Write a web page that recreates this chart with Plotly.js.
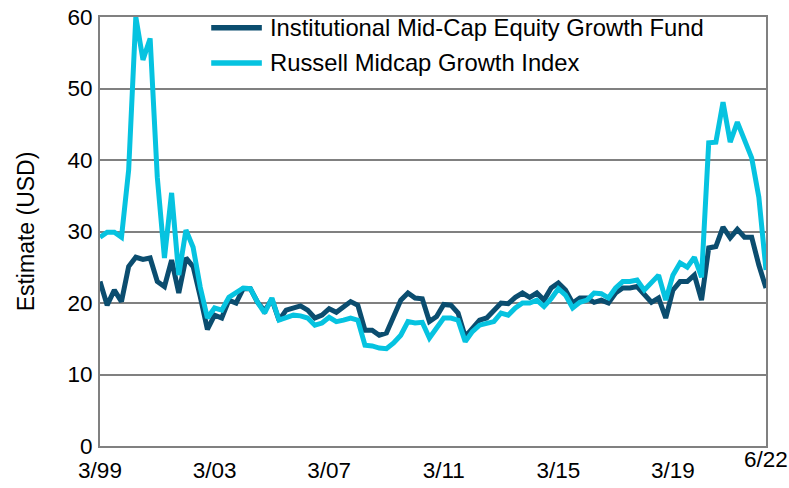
<!DOCTYPE html>
<html>
<head>
<meta charset="utf-8">
<script src="https://cdn.plot.ly/plotly-3.0.1.min.js"></script>
<style>
  html, body { margin: 0; padding: 0; background: #ffffff; }
  #chart { width: 789px; height: 488px; }
</style>
</head>
<body>
<div id="chart"></div>
<script>
// Quarter-end labels from 3/99 to 6/22 (categories)
const quarters = [];
for (let yr = 1999; yr <= 2022; yr++) {
  for (const m of [3, 6, 9, 12]) {
    if (yr === 2022 && m > 6) break;
    quarters.push(m + "/" + String(yr % 100).padStart(2, "0"));
  }
}

const seriesNames = ["Institutional Mid-Cap Equity Growth Fund", "Russell Midcap Growth Index"];

const fundValues = [
  23.0, 19.7, 21.8, 20.2, 25.1, 26.4, 26.1, 26.3, 23.0, 22.3,
  26.0, 21.4, 26.3, 25.1, 20.9, 16.3, 18.3, 17.9, 20.4, 20.0,
  22.0, 22.0, 20.1, 18.9, 20.5, 17.6, 19.0, 19.3, 19.6, 19.0,
  17.9, 18.3, 19.2, 18.7, 19.5, 20.2, 19.7, 16.2, 16.2, 15.5,
  15.8, 18.1, 20.4, 21.4, 20.7, 20.6, 17.4, 18.1, 19.8, 19.7,
  18.6, 15.3, 16.5, 17.6, 17.9, 19.0, 20.0, 19.9, 20.8, 21.4,
  20.8, 21.4, 20.4, 22.1, 22.8, 21.8, 20.0, 20.7, 20.7, 20.1,
  20.4, 20.0, 21.4, 22.1, 22.1, 22.3, 21.1, 20.1, 20.7, 17.9,
  21.8, 23.0, 23.0, 23.9, 20.4, 27.7, 27.9, 30.6, 29.1, 30.3,
  29.2, 29.2, 25.3, 22.1
];

const indexValues = [
  29.2, 29.9, 29.9, 29.2, 38.6, 60.0, 54.0, 57.0, 37.6, 26.3,
  35.4, 23.9, 30.2, 27.8, 22.2, 17.9, 19.3, 19.0, 20.8, 21.4,
  22.1, 22.0, 20.1, 18.6, 20.7, 17.6, 18.0, 18.3, 18.2, 17.9,
  16.9, 17.2, 18.0, 17.4, 17.6, 17.9, 17.6, 14.1, 14.0, 13.7,
  13.6, 14.4, 15.5, 17.4, 17.2, 17.3, 15.1, 16.5, 17.9, 17.9,
  17.6, 14.6, 16.0, 16.9, 17.2, 17.4, 18.6, 18.3, 19.3, 20.0,
  20.0, 20.4, 19.5, 20.6, 22.0, 21.1, 19.3, 20.1, 20.4, 21.4,
  21.3, 20.7, 22.1, 23.0, 23.0, 23.2, 21.8, 22.8, 23.9, 20.4,
  23.9, 25.6, 25.0, 26.4, 23.6, 42.4, 42.5, 48.1, 42.5, 45.3,
  42.8, 40.3, 34.8, 24.6
];

const xTickLabels = ["3/99", "3/03", "3/07", "3/11", "3/15", "3/19"];
const lastTickLabel = "6/22";
const yTickValues = [0, 10, 20, 30, 40, 50, 60];

const colors = ["#0b4d6f", "#06c3e0"];
const fontFamily = "Arial, 'Liberation Sans', sans-serif";

const traces = [
  { x: quarters, y: fundValues, name: seriesNames[0], type: "scatter", mode: "lines",
    line: { color: colors[0], width: 5 }, showlegend: false },
  { x: quarters, y: indexValues, name: seriesNames[1], type: "scatter", mode: "lines",
    line: { color: colors[1], width: 5 }, showlegend: false }
];

// manual legend (line swatch + text), paper coordinates
const legendRows = [0.975, 0.893];
const shapes = [];
const annotations = [];
seriesNames.forEach((nm, i) => {
  shapes.push({ type: "line", xref: "paper", yref: "paper",
    x0: 0.167, x1: 0.243, y0: legendRows[i], y1: legendRows[i],
    line: { color: colors[i], width: 5.5 } });
  annotations.push({ xref: "paper", yref: "paper", x: 0.252, y: legendRows[i],
    xanchor: "left", yanchor: "middle", showarrow: false, text: nm,
    font: { family: fontFamily, size: 23.8, color: "#000000" } });
});
annotations.push({ xref: "x", yref: "paper", x: quarters.length - 1, y: 0.002,
  xanchor: "center", yanchor: "top", showarrow: false, text: lastTickLabel,
  font: { family: fontFamily, size: 22.5, color: "#000000" } });

const layout = {
  width: 789, height: 488,
  margin: { l: 100, r: 23, t: 17, b: 42 },
  paper_bgcolor: "#ffffff", plot_bgcolor: "#ffffff",
  font: { family: fontFamily, size: 22.5, color: "#000000" },
  xaxis: {
    type: "category",
    range: [0, quarters.length - 1],
    tickmode: "array", tickvals: xTickLabels, ticktext: xTickLabels,
    showgrid: false, zeroline: false,
    showline: true, linecolor: "#808080", linewidth: 2, mirror: true,
    ticks: "", ticklabelstandoff: 3,
    tickfont: { family: fontFamily, size: 22.5, color: "#000000" }
  },
  yaxis: {
    range: [0, 60], tickmode: "array", tickvals: yTickValues,
    showgrid: true, gridcolor: "#808080", gridwidth: 2,
    zeroline: false, showline: true, linecolor: "#808080", linewidth: 2, mirror: true,
    ticks: "", ticklabelstandoff: 1,
    tickfont: { family: fontFamily, size: 22.5, color: "#000000" },
    title: { text: "Estimate (USD)", standoff: 26, font: { family: fontFamily, size: 23, color: "#000000" } }
  },
  shapes: shapes,
  annotations: annotations,
  showlegend: false
};

Plotly.newPlot("chart", traces, layout, { displayModeBar: false, staticPlot: true });
</script>
</body>
</html>
